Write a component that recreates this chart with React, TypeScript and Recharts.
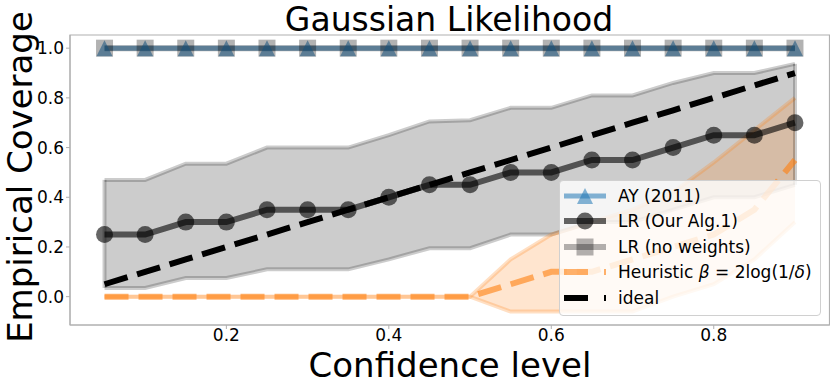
import React from "react";
import {
  ComposedChart,
  Line,
  Area,
  XAxis,
  YAxis,
  ReferenceArea,
  ReferenceLine,
  Label,
} from "recharts";

const confidence = [0.05, 0.1, 0.15, 0.2, 0.25, 0.3, 0.35, 0.4, 0.45, 0.5, 0.55, 0.6, 0.65, 0.7, 0.75, 0.8, 0.85, 0.9];
const ayCoverage = [1, 1, 1, 1, 1, 1, 1, 1, 1, 1, 1, 1, 1, 1, 1, 1, 1, 1];
const lrCoverage = [0.25, 0.25, 0.3, 0.3, 0.35, 0.35, 0.35, 0.4, 0.45, 0.45, 0.5, 0.5, 0.55, 0.55, 0.6, 0.65, 0.65, 0.7];
const lrUpper = [0.47, 0.47, 0.535, 0.535, 0.6, 0.6, 0.6, 0.65, 0.705, 0.71, 0.76, 0.76, 0.81, 0.81, 0.86, 0.9, 0.9, 0.937];
const lrLower = [0.035, 0.035, 0.075, 0.075, 0.11, 0.11, 0.11, 0.15, 0.195, 0.195, 0.25, 0.25, 0.3, 0.3, 0.35, 0.4, 0.4, 0.45];
const noWeightsCoverage = [1, 1, 1, 1, 1, 1, 1, 1, 1, 1, 1, 1, 1, 1, 1, 1, 1, 1];
const heuristicCoverage = [0, 0, 0, 0, 0, 0, 0, 0, 0, 0, 0.05, 0.1, 0.1, 0.15, 0.2, 0.25, 0.35, 0.55];
const heuristicUpper = [0, 0, 0, 0, 0, 0, 0, 0, 0, 0, 0.15, 0.25, 0.3, 0.35, 0.42, 0.54, 0.67, 0.8];
const heuristicLower = [0, 0, 0, 0, 0, 0, 0, 0, 0, 0, -0.06, -0.06, -0.06, -0.06, 0, 0.05, 0.15, 0.3];
const idealCoverage = [0.05, 0.1, 0.15, 0.2, 0.25, 0.3, 0.35, 0.4, 0.45, 0.5, 0.55, 0.6, 0.65, 0.7, 0.75, 0.8, 0.85, 0.9];

const xTicks = [0.2, 0.4, 0.6, 0.8];
const yTicks = [0, 0.2, 0.4, 0.6, 0.8, 1.0];
const xDomain = [0.0075, 0.9425];
const yDomain = [-0.114, 1.053];

const rows = confidence.map((c, i) => ({
  confidence: c,
  ay: ayCoverage[i],
  lr: lrCoverage[i],
  lrBand: [lrLower[i], lrUpper[i]],
  noWeights: noWeightsCoverage[i],
  heuristic: heuristicCoverage[i],
  heuristicBand: [heuristicLower[i], heuristicUpper[i]],
  ideal: idealCoverage[i],
}));

const FONT = "'DejaVu Sans', sans-serif";
const BLUE = "#1f77b4";
const ORANGE = "#ff7f0e";

const triangleDot = (props: any) => {
  const { cx, cy, index } = props;
  if (cx == null || cy == null) return <g key={index} />;
  const s = 8;
  return (
    <polygon
      key={index}
      points={`${cx},${cy - s} ${cx - s},${cy + s} ${cx + s},${cy + s}`}
      fill={BLUE}
      fillOpacity={0.55}
    />
  );
};

const squareDot = (props: any) => {
  const { cx, cy, index } = props;
  if (cx == null || cy == null) return <g key={index} />;
  return (
    <rect key={index} x={cx - 8.5} y={cy - 8.5} width={17} height={17} fill="#000" fillOpacity={0.3} />
  );
};

const circleDot = (props: any) => {
  const { cx, cy, index } = props;
  if (cx == null || cy == null) return <g key={index} />;
  return <circle key={index} cx={cx} cy={cy} r={8.5} fill="#000" fillOpacity={0.6} />;
};

const legendRow: React.CSSProperties = {
  height: 25.5,
  display: "flex",
  alignItems: "center",
};

const Handle = ({ kind }: { kind: string }) => (
  <svg width={44} height={20} style={{ marginRight: 11, flex: "none" }}>
    {kind === "ay" && (
      <>
        <line x1={1} y1={10} x2={43} y2={10} stroke={BLUE} strokeOpacity={0.55} strokeWidth={5} />
        <polygon points="22,2 14,18 30,18" fill={BLUE} fillOpacity={0.55} />
      </>
    )}
    {kind === "lr" && (
      <>
        <line x1={1} y1={10} x2={43} y2={10} stroke="#000" strokeOpacity={0.6} strokeWidth={6} />
        <circle cx={22} cy={10} r={8.5} fill="#000" fillOpacity={0.6} />
      </>
    )}
    {kind === "nw" && (
      <>
        <line x1={1} y1={10} x2={43} y2={10} stroke="#000" strokeOpacity={0.3} strokeWidth={6} />
        <rect x={13.5} y={1.5} width={17} height={17} fill="#000" fillOpacity={0.3} />
      </>
    )}
    {kind === "heur" && (
      <line x1={1} y1={10} x2={43} y2={10} stroke={ORANGE} strokeOpacity={0.6} strokeWidth={6} strokeDasharray="24 16" />
    )}
    {kind === "ideal" && (
      <line x1={1} y1={10} x2={43} y2={10} stroke="#000" strokeWidth={6} strokeDasharray="24 16" />
    )}
  </svg>
);

const legendItems = [
  { kind: "ay", label: <>AY (2011)</> },
  { kind: "lr", label: <>LR (Our Alg.1)</> },
  { kind: "nw", label: <>LR (no weights)</> },
  {
    kind: "heur",
    label: (
      <>
        Heuristic <i>β</i> = 2log(1/<i>δ</i>)
      </>
    ),
  },
  { kind: "ideal", label: <>ideal</> },
];

const CoverageLegend = () => (
  <div
    style={{
      position: "absolute",
      left: 559,
      top: 180,
      width: 262,
      height: 136,
      boxSizing: "border-box",
      padding: "2px 0 0 3px",
      background: "rgba(255,255,255,0.8)",
      border: "1px solid #d0d0d0",
      borderRadius: 4,
      fontFamily: FONT,
      fontSize: 17,
      color: "#000",
    }}
  >
    {legendItems.map((item) => (
      <div key={item.kind} style={legendRow}>
        <Handle kind={item.kind} />
        <span style={{ whiteSpace: "nowrap" }}>{item.label}</span>
      </div>
    ))}
  </div>
);

export default function App() {
  return (
    <div style={{ position: "absolute", left: 0, top: 0, width: 830, height: 385, background: "#fff" }}>
      <ComposedChart
        width={830}
        height={385}
        data={rows}
        margin={{ top: 35, right: 0.5, bottom: 0, left: 0 }}
        style={{ fontFamily: FONT }}
      >
        <XAxis
          dataKey="confidence"
          type="number"
          domain={xDomain}
          ticks={xTicks}
          allowDataOverflow
          height={60}
          stroke="#b0b0b0"
          tickSize={4}
          tickMargin={0}
          tick={{ fill: "#000", fontSize: 17 }}
          tickFormatter={(v: number) => v.toFixed(1)}
        >
          <Label
            content={() => (
              <text x={450} y={377} textAnchor="middle" fontSize={34} fill="#000" fontFamily={FONT}>
                Confidence level
              </text>
            )}
          />
        </XAxis>
        <YAxis
          type="number"
          domain={yDomain}
          ticks={yTicks}
          allowDataOverflow
          width={70}
          stroke="#b0b0b0"
          tickSize={4}
          tick={{ fill: "#000", fontSize: 17 }}
          tickFormatter={(v: number) => v.toFixed(1)}
        >
          <Label
            content={() => (
              <>
                <text
                  x={32}
                  y={177}
                  transform="rotate(-90 32 177)"
                  textAnchor="middle"
                  fontSize={34}
                  fill="#000"
                  fontFamily={FONT}
                >
                  Empirical Coverage
                </text>
                <text x={449} y={31} textAnchor="middle" fontSize={33} fill="#000" fontFamily={FONT}>
                  Gaussian Likelihood
                </text>
              </>
            )}
          />
        </YAxis>

        <ReferenceArea
          x1={xDomain[0]}
          x2={xDomain[1]}
          y1={yDomain[0]}
          y2={yDomain[1]}
          fill="none"
          stroke="#b0b0b0"
          strokeWidth={1.2}
        />

        {/* LR (Our Alg.1) spread */}
        <Area
          dataKey="lrBand"
          type="linear"
          fill="#000"
          fillOpacity={0.2}
          stroke="#000"
          strokeOpacity={0.2}
          strokeWidth={4}
          isAnimationActive={false}
          dot={false}
          activeDot={false}
        />
        <ReferenceLine
          segment={[
            { x: confidence[0], y: lrLower[0] },
            { x: confidence[0], y: lrUpper[0] },
          ]}
          stroke="#000"
          strokeOpacity={0.2}
          strokeWidth={4}
        />
        <ReferenceLine
          segment={[
            { x: confidence[17], y: lrLower[17] },
            { x: confidence[17], y: lrUpper[17] },
          ]}
          stroke="#000"
          strokeOpacity={0.2}
          strokeWidth={4}
        />

        {/* Heuristic spread */}
        <Area
          dataKey="heuristicBand"
          type="linear"
          fill={ORANGE}
          fillOpacity={0.2}
          stroke={ORANGE}
          strokeOpacity={0.25}
          strokeWidth={4}
          isAnimationActive={false}
          dot={false}
          activeDot={false}
        />

        <Line
          dataKey="ay"
          type="linear"
          stroke={BLUE}
          strokeOpacity={0.55}
          strokeWidth={5}
          dot={triangleDot}
          activeDot={false}
          isAnimationActive={false}
        />
        <Line
          dataKey="noWeights"
          type="linear"
          stroke="#000"
          strokeOpacity={0.3}
          strokeWidth={6}
          dot={squareDot}
          activeDot={false}
          isAnimationActive={false}
        />
        <Line
          dataKey="lr"
          type="linear"
          stroke="#000"
          strokeOpacity={0.6}
          strokeWidth={6}
          dot={circleDot}
          activeDot={false}
          isAnimationActive={false}
        />
        <Line
          dataKey="heuristic"
          type="linear"
          stroke={ORANGE}
          strokeOpacity={0.6}
          strokeWidth={6}
          strokeDasharray="24 10"
          dot={false}
          activeDot={false}
          isAnimationActive={false}
        />
        <Line
          dataKey="ideal"
          type="linear"
          stroke="#000"
          strokeWidth={6}
          strokeDasharray="24 10"
          dot={false}
          activeDot={false}
          isAnimationActive={false}
        />
      </ComposedChart>
      <CoverageLegend />
    </div>
  );
}
